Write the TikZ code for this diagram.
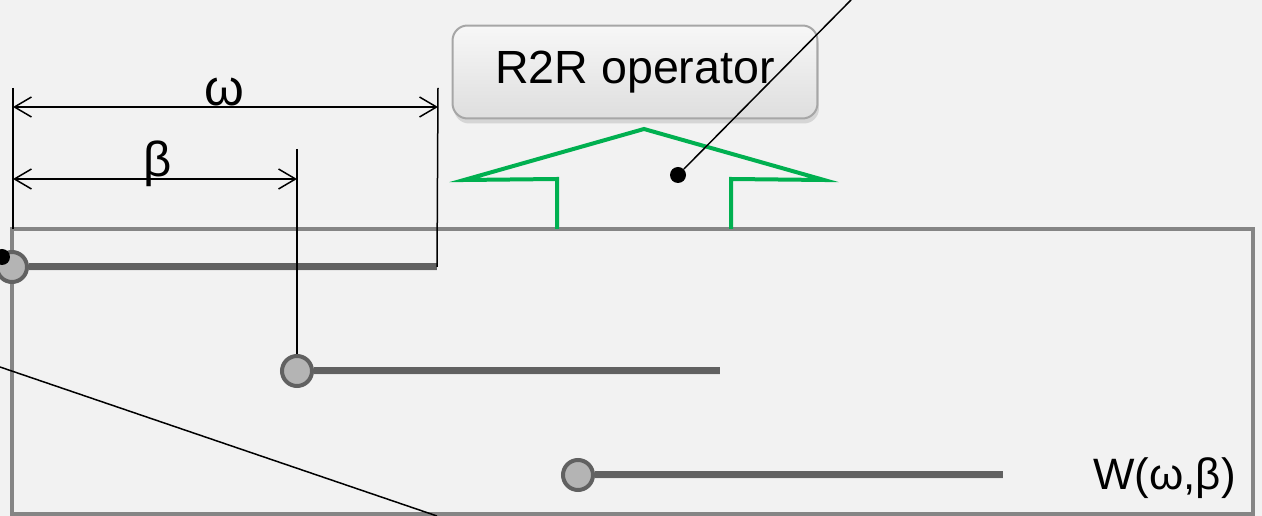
\documentclass[tikz,border=0pt]{standalone}
\usepackage{fontspec}
\setmainfont{Liberation Sans}
\usetikzlibrary{arrows.meta,shadows}
\definecolor{bggray}{HTML}{F2F2F2}
\definecolor{framegray}{HTML}{858585}
\definecolor{bargray}{HTML}{616161}
\definecolor{knobgray}{HTML}{B4B4B4}
\definecolor{opgreen}{HTML}{00B050}

\begin{document}
\begin{tikzpicture}[x=0.02cm,y=-0.02cm,font=\fontsize{26.5}{30}\selectfont,
  knob/.style={circle,draw=bargray,fill=knobgray,line width=0.08cm,minimum size=0.6cm,inner sep=0pt},
  bar/.style={bargray,line width=0.14cm},
  barshadow/.style={black!10,line width=0.16cm,yshift=-0.08cm},
  dim/.style={black,line width=0.03cm},
  dimarrow/.style={dim,{Straight Barb[length=0.34cm,width=0.4cm]}-{Straight Barb[length=0.34cm,width=0.4cm]}},
  pin/.style={circle,fill=black,minimum size=0.32cm,inner sep=0pt},
  opbox/.style={draw=black!35,line width=0.04cm,rounded corners=0.3cm,top color=black!3,bottom color=black!13,
    minimum width=7.3cm,minimum height=1.86cm,drop shadow={opacity=0.25,shadow xshift=0.03cm,shadow yshift=-0.1cm}}]
  \fill[bggray] (0,0) rectangle (1262,516);
  \clip (0,0) rectangle (1262,516);

  % frame of the window
  \draw[framegray,line width=0.08cm] (12,229) rectangle (1253,514);

  % operator box and the green arrow under it
  \node[opbox] (op) at (635,72) {R2R operator};
  \draw[opgreen,line width=0.08cm,line join=miter]
    (557,229) -- (557,179) -- (464,180) -- (644,129) -- (824,180) -- (731,179) -- (731,229);

  % knobs and bars
  \node[knob] (k1) at (12,267) {};
  \node[knob] (k2) at (297,371) {};
  \node[knob] (k3) at (578,475) {};
  \coordinate (e1) at (437,267);
  \coordinate (e2) at (720,371);
  \coordinate (e3) at (1003,475);
  \foreach \i in {1,2,3} {
    \draw[barshadow] (k\i.east) -- (e\i);
    \draw[bar] (k\i.east) -- (e\i);
  }

  % dimensions
  \coordinate (wl) at (13,107);
  \coordinate (wr) at (438,107);
  \coordinate (bl) at (13,179);
  \coordinate (br) at (297,179);
  \draw[dim] (13,88) -- (13,229);
  \draw[dim] (438,88) -- (e1);
  \draw[dim] (297,149) -- (k2.north);
  \draw[dimarrow] (wl) -- (wr);
  \draw[dimarrow] (bl) -- (br);
  \node[anchor=base,font=\fontsize{29}{32}\selectfont] (wlab) at (224,106) {ω};
  \node[anchor=base,font=\fontsize{28}{32}\selectfont] (blab) at (158,177) {β};

  \node[anchor=base east,inner sep=0pt,font=\fontsize{25}{30}\selectfont] (wfun) at (1236,490) {W(ω,β)};

  % leader lines
  \node[pin] (p1) at (678,175) {};
  \coordinate (p1end) at (851,0);
  \draw[dim] (p1) -- (p1end);
  \node[pin] (p2) at (2,257) {};
  \coordinate (l1) at (0,367);
  \coordinate (l2) at (437,516);
  \draw[dim] (l1) -- (l2);
\end{tikzpicture}
\end{document}
